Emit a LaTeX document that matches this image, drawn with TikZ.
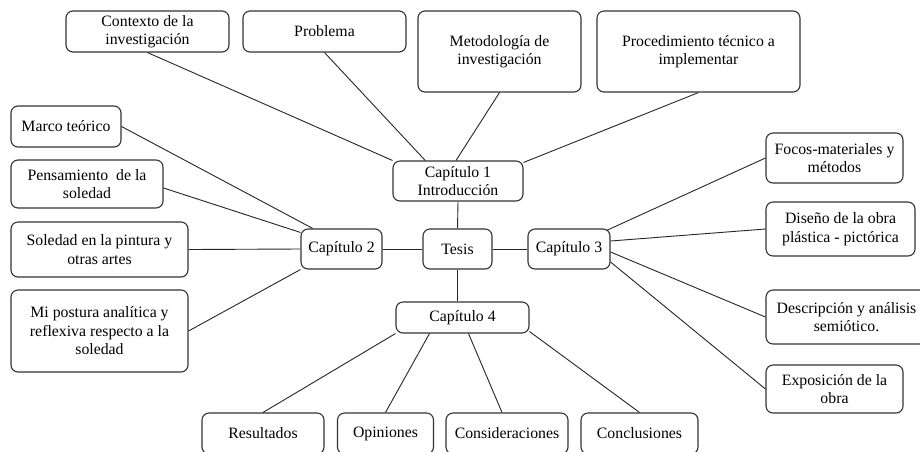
\documentclass[tikz,border=0pt]{standalone}
\usepackage{fontspec}
\setmainfont{Liberation Serif}
\newfontfamily\tnr{Liberation Serif}
\usetikzlibrary{calc}
\begin{document}
\begin{tikzpicture}[x=1pt,y=-1pt,
  box/.style={draw=black!80, line width=1.1pt, rounded corners=7pt, fill=white,
    inner sep=0pt, align=center, font=\tnr\fontsize{15.8}{18.5}\selectfont},
  link/.style={draw=black!85, line width=0.9pt}]
\useasboundingbox (0,0) rectangle (920,451);
\clip (0,0) rectangle (920,451);
\fill[white] (0,0) rectangle (920,451);
% top row
\node[box, minimum width=163pt, minimum height=41pt] (ctx) at (147.5,31.5) {Contexto de la\\investigación};
\node[box, minimum width=163pt, minimum height=41pt] (prob) at (324.5,31.5) {Problema};
\node[box, minimum width=163pt, minimum height=81pt] (met) at (499.5,51.5) {Metodología de\\investigación};
\node[box, minimum width=203pt, minimum height=81pt] (proc) at (698.5,51.5) {Procedimiento técnico a\\implementar};
\node[box, minimum width=130pt, minimum height=40pt] (c1) at (458,181) {Capítulo 1\\Introducción};
% left column
\node[box, minimum width=110pt, minimum height=41pt] (marco) at (66,126.5) {Marco teórico};
\node[box, minimum width=152pt, minimum height=48pt] (pens) at (87,184) {Pensamiento\ \ de la\\soledad};
\node[box, minimum width=177pt, minimum height=55pt] (sol) at (99.5,249.5) {Soledad en la pintura y\\otras artes};
\node[box, minimum width=177pt, minimum height=82pt] (post) at (99.5,331) {Mi postura analítica y\\reflexiva respecto a la\\soledad};
% center row
\node[box, minimum width=81pt, minimum height=40pt] (c2) at (341.5,249) {Capítulo 2};
\node[box, minimum width=69pt, minimum height=40pt] (tesis) at (457.5,249) {Tesis};
\node[box, minimum width=82pt, minimum height=40pt] (c3) at (569,249) {Capítulo 3};
\node[box, minimum width=133pt, minimum height=31pt] (c4) at (462.5,317.5) {Capítulo 4};
% bottom row
\node[box, minimum width=122pt, minimum height=41pt] (res) at (263,433.5) {Resultados};
\node[box, minimum width=96pt, minimum height=41pt] (opi) at (385.5,433.5) {Opiniones};
\node[box, minimum width=122pt, minimum height=41pt] (cons) at (507,433.5) {Consideraciones};
\node[box, minimum width=117pt, minimum height=41pt] (conc) at (639.5,433.5) {Conclusiones};
% right column
\node[box, minimum width=137pt, minimum height=50pt] (focos) at (834.5,158) {Focos-materiales y\\métodos};
\node[box, minimum width=149pt, minimum height=54pt] (dis) at (840.5,229) {Diseño de la obra\\plástica - pictórica};
\node[box, minimum width=161pt, minimum height=54pt] (desc) at (846.5,317) {Descripción y análisis\\semiótico.};
\node[box, minimum width=137pt, minimum height=48pt] (exp) at (834.5,389) {Exposición de la\\obra};
% connectors
\path[link] (ctx.south) -- (c1.north west);
\path[link] (prob.south) -- ($(c1.north west)!0.25!(c1.north east)$);
\path[link] (met.south) -- ($(c1.north)+(-2,0)$);
\path[link] (proc.south) -- ($(c1.north east)+(0,2)$);
\path[link] (c1.south) -- (tesis.north);
\path[link] (marco.east) -- ($(c2.north west)!0.15!(c2.north east)$);
\path[link] ($(pens.east)+(0,4)$) -- ($(c2.north west)+(0,4)$);
\path[link] (sol.east) -- (c2.west);
\path[link] (post.east) -- (c2.south west);
\path[link] (c2.east) -- (tesis.west);
\path[link] (tesis.east) -- (c3.west);
\path[link] (tesis.south) -- (tesis.south |- c4.north);
\path[link] ($(c3.north east)+(-4,2)$) -- (focos.west);
\path[link] ($(c3.east)+(0,-8)$) -- (dis.west);
\path[link] ($(c3.east)+(0,3)$) -- (desc.west);
\path[link] ($(c3.east)+(0,13)$) -- (exp.west);
\path[link] (c4.south west) -- (res.north);
\path[link] ($(c4.south west)+(34,0)$) -- (opi.north);
\path[link] ($(c4.south)+(6,0)$) -- ($(cons.north)+(-5,0)$);
\path[link] ($(c4.south east)+(0,-2)$) -- (conc.north);
\end{tikzpicture}
\end{document}
